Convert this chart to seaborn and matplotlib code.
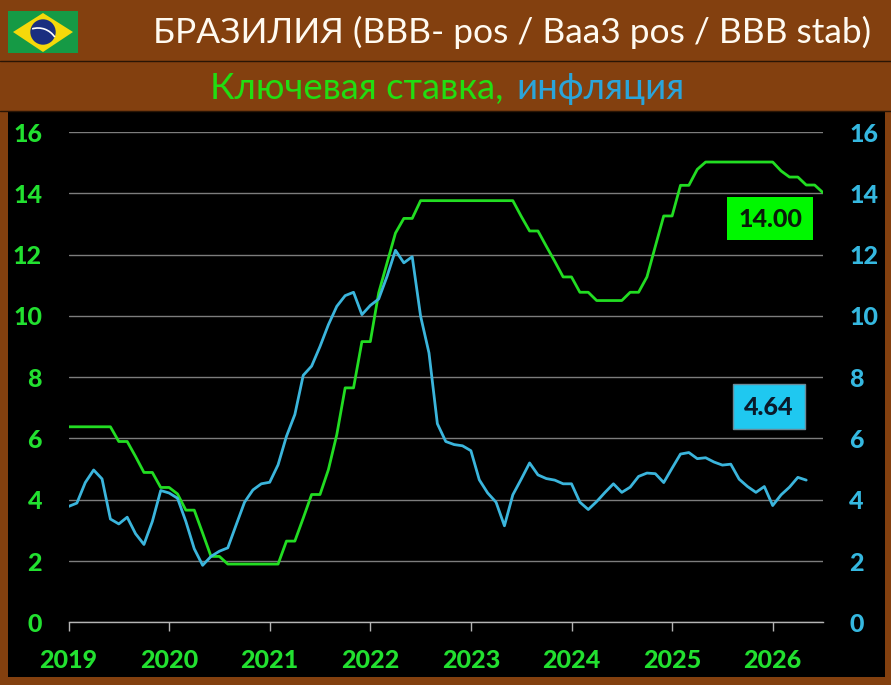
"""Бразилия: ключевая ставка и инфляция"""

from matplotlib import pyplot as plt
from matplotlib.patches import Arc, Circle, Polygon, Rectangle
import numpy as np
import pandas as pd
import seaborn as sns

years = [2019, 2020, 2021, 2022, 2023, 2024, 2025, 2026]
y_ticks = [0, 2, 4, 6, 8, 10, 12, 14, 16]

# значения по месяцам, начиная с января 2019
key_rate = [
    6.38, 6.38, 6.38, 6.38, 6.38, 6.38, 5.90, 5.90, 5.41, 4.89, 4.89, 4.40,
    4.40, 4.19, 3.66, 3.66, 2.91, 2.15, 2.15, 1.90, 1.90, 1.90, 1.90, 1.90,
    1.90, 1.90, 2.65, 2.65, 3.40, 4.17, 4.17, 4.98, 6.12, 7.65, 7.65, 9.16,
    9.16, 10.75, 11.73, 12.70, 13.18, 13.18, 13.76, 13.76, 13.76, 13.76, 13.76, 13.76,
    13.76, 13.76, 13.76, 13.76, 13.76, 13.76, 13.25, 12.77, 12.77, 12.27, 11.78, 11.27,
    11.27, 10.77, 10.77, 10.50, 10.50, 10.50, 10.50, 10.77, 10.77, 11.27, 12.27, 13.26,
    13.26, 14.26, 14.26, 14.78, 15.02, 15.02, 15.02, 15.02, 15.02, 15.02, 15.02, 15.02,
    15.02, 14.73, 14.53, 14.53, 14.27, 14.27, 14.02,
]
inflation = [
    3.78, 3.89, 4.56, 4.97, 4.68, 3.37, 3.21, 3.43, 2.89, 2.54, 3.29, 4.30,
    4.22, 4.05, 3.29, 2.40, 1.86, 2.15, 2.32, 2.43, 3.18, 3.92, 4.32, 4.52,
    4.57, 5.14, 6.07, 6.78, 8.06, 8.36, 9.00, 9.71, 10.31, 10.66, 10.77, 10.04,
    10.34, 10.55, 11.29, 12.14, 11.73, 11.93, 9.99, 8.79, 6.48, 5.90, 5.80, 5.76,
    5.60, 4.65, 4.22, 3.92, 3.15, 4.16, 4.67, 5.20, 4.81, 4.69, 4.64, 4.52,
    4.52, 3.92, 3.68, 3.94, 4.24, 4.52, 4.24, 4.41, 4.76, 4.87, 4.85, 4.56,
    5.03, 5.49, 5.54, 5.34, 5.37, 5.23, 5.13, 5.16, 4.67, 4.43, 4.24, 4.43,
    3.81, 4.16, 4.41, 4.73, 4.64,
]

BROWN = '#83400F'
GREEN = '#22DD22'
BLUE = '#3BB5DC'
W, H = 891, 685

sns.set_style('dark')
plt.rcParams['font.family'] = ['Lato', 'Open Sans', 'DejaVu Sans']

rate_df = pd.DataFrame({'month': np.arange(len(key_rate)), 'value': key_rate})
infl_df = pd.DataFrame({'month': np.arange(len(inflation)), 'value': inflation})

fig = plt.figure(figsize=(W / 100, H / 100), dpi=100, facecolor=BROWN)

# фон и шапка в координатах картинки
bg = fig.add_axes([0, 0, 1, 1], zorder=0)
bg.set_xlim(0, W)
bg.set_ylim(H, 0)
bg.axis('off')
bg.add_patch(Rectangle((8, 111), 877, 566, color='black', lw=0))
bg.plot([0, W], [61, 61], color='#2a1505', lw=1)
bg.plot([0, W], [111, 111], color='#2a1505', lw=1)

# флаг
bg.add_patch(Rectangle((8, 11), 70, 42, color='#159A45', lw=0))
bg.add_patch(Polygon([(13, 32), (43, 13), (73, 32), (43, 52)], color='#F5D90A', lw=0))
bg.add_patch(Circle((43, 32), 12.7, color='#1A2F80', lw=0))
bg.add_patch(Arc((38, 48), 40, 40, theta1=-107, theta2=-33, color='white', lw=1.2))

bg.text(153, 32, 'БРАЗИЛИЯ (BBB- pos / Baa3 pos / BBB stab)', color='#FFFAF0',
        fontsize=25.5, va='center', ha='left')
bg.text(503, 88.5, 'Ключевая ставка,', color='#22DD11', fontsize=26.3, va='center', ha='right')
bg.text(516, 88.5, 'инфляция', color='#2AA5DA', fontsize=26.3, va='center', ha='left')

# подписи последних значений
bg.add_patch(Rectangle((727, 197), 86, 43, color='#00F800', lw=0))
bg.text(770, 219, '14.00', color='#0a1a0a', fontsize=18, fontweight=900, ha='center', va='center')
bg.add_patch(Rectangle((733, 384), 72, 45, facecolor='#1FC8F0', edgecolor='#6a8a99', lw=1))
bg.text(769, 407, '4.64', color='#0a1a2a', fontsize=18, fontweight=900, ha='center', va='center')

# график
ax = fig.add_axes([68.5 / W, 1 - 622.3 / H, (823 - 68.5) / W, (622.3 - 132) / H], zorder=1)
ax.patch.set_alpha(0)
ax2 = ax.twinx()
ax2.patch.set_alpha(0)

sns.lineplot(data=rate_df, x='month', y='value', color=GREEN, linewidth=2.0, ax=ax)
sns.lineplot(data=infl_df, x='month', y='value', color=BLUE, linewidth=2.0, ax=ax2)

ax.set_xlim(0, 90)
for a in (ax, ax2):
    a.set_ylim(0, 16)
    a.set_yticks(y_ticks)
    a.set_ylabel('')
    a.set_xlabel('')
    for s in a.spines.values():
        s.set_visible(False)

ax.grid(axis='y', color='#7d7d7d', lw=1)
ax.grid(axis='x', visible=False)
ax2.grid(False)
ax.spines['bottom'].set_visible(True)
ax.spines['bottom'].set_color('#b5b5b5')
ax.spines['bottom'].set_linewidth(1)

ax.set_xticks([(y - years[0]) * 12 for y in years])
ax.set_xticklabels(years)
ax.tick_params(axis='x', bottom=True, length=6.5, width=1, color='#b5b5b5', pad=12.5,
               labelsize=18, labelcolor='#22E030')
ax.tick_params(axis='y', left=False, length=0, pad=19, labelsize=18, labelcolor='#22E030')
ax2.tick_params(axis='y', right=False, length=0, pad=19, labelsize=18, labelcolor='#35B8E0')
for lab in ax.get_xticklabels() + ax.get_yticklabels() + ax2.get_yticklabels():
    lab.set_fontweight(900)

fig.savefig('out.png', dpi=100, facecolor=BROWN)
